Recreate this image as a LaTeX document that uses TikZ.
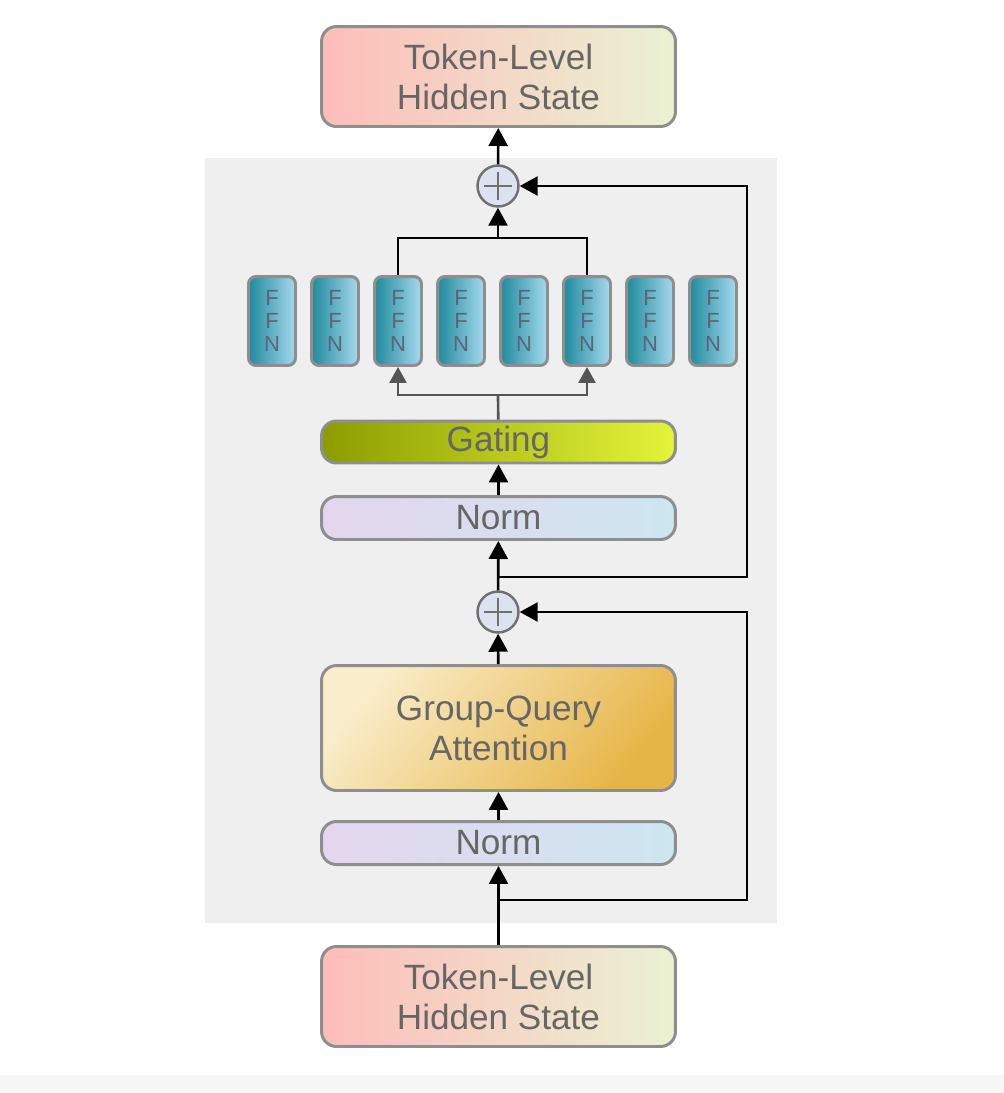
\documentclass[tikz,border=0pt]{standalone}
\usepackage{fontspec}
\setmainfont{Liberation Sans}
\usetikzlibrary{arrows.meta, calc}

\definecolor{panelgrey}{HTML}{EFEFEF}
\definecolor{bordergrey}{HTML}{8E8E8E}
\definecolor{textgrey}{HTML}{666666}
\definecolor{ffntext}{HTML}{5C6478}
\definecolor{arrgrey}{HTML}{555555}
\definecolor{circfill}{HTML}{DCE2F0}
\definecolor{circgrey}{HTML}{707070}
\definecolor{statel}{HTML}{FDBDBA}
\definecolor{statem}{HTML}{F8E8C8}
\definecolor{stater}{HTML}{EAF2D2}
\definecolor{norml}{HTML}{E4D6EE}
\definecolor{normr}{HTML}{CDE6EF}
\definecolor{gatel}{HTML}{8C9C00}
\definecolor{gatem}{HTML}{A8BA08}
\definecolor{gater}{HTML}{E4F43A}
\definecolor{gqal}{HTML}{F9EDCB}
\definecolor{gqam}{HTML}{F3DA9C}
\definecolor{gqar}{HTML}{E6B548}
\definecolor{ffnl}{HTML}{1F8A9C}
\definecolor{ffnm}{HTML}{7EC4DC}
\definecolor{ffnr}{HTML}{A6D9EE}

\begin{document}
\begin{tikzpicture}[x=0.02cm, y=-0.02cm,
  block/.style={draw=bordergrey, line width=1.7pt, rounded corners=0.3cm,
    minimum width=7.08cm, inner sep=0pt, align=center, text=textgrey,
    font=\fontsize{20}{22.8}\selectfont},
  state/.style={block, minimum height=2.0cm,
    left color=statel, middle color=statem, right color=stater},
  normbox/.style={block, minimum height=0.86cm,
    left color=norml, right color=normr},
  ffn/.style={draw=bordergrey, line width=1.7pt, rounded corners=0.15cm,
    minimum width=0.94cm, minimum height=1.78cm, inner sep=0pt, align=center,
    text=ffntext, font=\fontsize{12.5}{13.2}\selectfont,
    left color=ffnl, middle color=ffnm, right color=ffnr},
  adder/.style={circle, draw=circgrey, line width=1.4pt, fill=circfill,
    minimum size=0.82cm, inner sep=0pt,
    path picture={
      \draw[circgrey, line width=0.6pt]
        ([xshift=-0.28cm]path picture bounding box.center) -- ([xshift=0.28cm]path picture bounding box.center)
        ([yshift=-0.28cm]path picture bounding box.center) -- ([yshift=0.28cm]path picture bounding box.center);}},
  arr/.style={line width=1.5pt, -{Triangle[width=0.38cm, length=0.36cm]}},
  garr/.style={arr, draw=arrgrey, -{Triangle[width=0.34cm, length=0.32cm, fill=arrgrey]}}]

\useasboundingbox (0,0) rectangle (1004,1093);
\fill[white] (0,0) rectangle (1004,1093);
\fill[black!3] (0,1075) rectangle (1004,1093);
\fill[panelgrey] (205,158) rectangle (777,923);

% blocks
\node[state] (out) at (498.5,76.5) {Token-Level\\Hidden State};
\node[state] (in) at (498.5,996.5) {Token-Level\\Hidden State};
\node[adder] (add1) at (498,186) {};
\node[adder] (add2) at (498,612) {};
\node[block, minimum height=0.84cm, left color=gatel, middle color=gatem, right color=gater]
  (gate) at (498.5,442) {Gating};
\node[normbox] (norm1) at (498.5,518) {Norm};
\node[block, minimum height=2.5cm, left color=gqal, middle color=gqam, right color=gqar, shading angle=50]
  (gqa) at (498.5,728) {Group-Query\\Attention};
\node[normbox] (norm2) at (498.5,843) {Norm};

% experts
\foreach \i in {1,...,8}
  \node[ffn] (f\i) at ({272+63*(\i-1)},321) {F\\F\\N};

% main path
\draw[arr] (in) -- (norm2);
\draw[arr] (norm2) -- (gqa);
\draw[arr] (gqa) -- (add2);
\draw[arr] (add2) -- (norm1);
\draw[arr] (norm1) -- (gate);
\draw[arr] (add1) -- (out);

% residuals
\coordinate (r1) at (498,900);
\coordinate (r1c) at (747,900);
\draw[arr] (r1) -- (r1c) |- (add2);
\coordinate (r2) at (498,577);
\coordinate (r2c) at (747,577);
\draw[arr] (r2) -- (r2c) |- (add1);

% routing
\coordinate (g) at (498,395);
\draw[line width=1.5pt, arrgrey] (gate) -- (g);
\draw[garr] (g) -| (f3);
\draw[garr] (g) -| (f6);
\coordinate (m) at (498,238);
\draw[line width=1.5pt] (f3) |- (m) -| (f6);
\draw[arr] (m) -- (add1);
\end{tikzpicture}
\end{document}
